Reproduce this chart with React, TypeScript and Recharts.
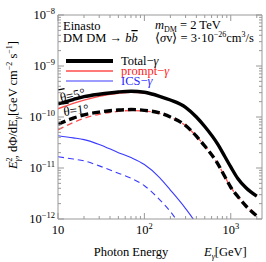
import React from "react";
import { LineChart, Line, XAxis, YAxis } from "recharts";

// photon energy grid [GeV]
const energy = [10, 15, 20, 30, 50, 70, 100, 150, 200, 300, 400, 500, 700, 850, 1000, 1200, 1500, 2000];

// E^2 dPhi/dE [GeV cm^-2 s^-1], theta = 5 deg (solid) and 1 deg (dashed)
const total5 = [1.8e-10, 2.2e-10, 2.5e-10, 2.8e-10, 3.1e-10, 3.2e-10, 3.05e-10, 2.55e-10, 2.15e-10, 1.55e-10, 1.0e-10, 6.5e-11, 3.0e-11, 1.7e-11, 1.05e-11, 6.3e-12, 4.1e-12, 2.8e-12];
const total1 = [7.2e-11, 9.5e-11, 1.1e-10, 1.25e-10, 1.37e-10, 1.4e-10, 1.35e-10, 1.2e-10, 1.0e-10, 6.8e-11, 4.2e-11, 2.7e-11, 1.25e-11, 6.9e-12, 4.2e-12, 2.8e-12, 1.8e-12, 1.15e-12];
const prompt5 = [1.45e-10, 1.85e-10, 2.15e-10, 2.55e-10, 2.92e-10, 3.05e-10, 2.93e-10, 2.48e-10, 2.11e-10, 1.53e-10, 9.9e-11, 6.5e-11, 3.0e-11, 1.7e-11, 1.05e-11, 6.3e-12, 4.1e-12, 2.8e-12];
const prompt1 = [5.6e-11, 7.8e-11, 9.4e-11, 1.13e-10, 1.29e-10, 1.34e-10, 1.31e-10, 1.18e-10, 9.9e-11, 6.75e-11, 4.2e-11, 2.7e-11, 1.25e-11, 6.9e-12, 4.2e-12, 2.8e-12, 1.8e-12, 1.15e-12];
const ics5 = [4.3e-11, 3.9e-11, 3.6e-11, 2.9e-11, 2.0e-11, 1.6e-11, 1.17e-11, 6.5e-12, 3.7e-12, 1.6e-12, 8e-13, 4e-13, null, null, null, null, null, null];
const ics1 = [1.66e-11, 1.5e-11, 1.38e-11, 1.1e-11, 7.9e-12, 6.3e-12, 4.5e-12, 2.4e-12, 1.4e-12, 5e-13, null, null, null, null, null, null, null, null];

const xTicks = [10, 20, 30, 40, 50, 60, 70, 80, 90, 100, 200, 300, 400, 500, 600, 700, 800, 900, 1000, 2000];
const yTicks = [-12, -11, -10, -9].flatMap((e) => [1, 2, 3, 4, 5, 6, 7, 8, 9].map((m) => m * Math.pow(10, e))).concat([1e-8]);

const legendItems = [
  { label: "Total", line: "#000", text: "#000", width: 3.8 },
  { label: "prompt", line: "#ff4d4d", text: "#ff1a1a", width: 1.3 },
  { label: "ICS", line: "#3a3aff", text: "#2a2aff", width: 1.1 },
];

const data = energy.map((e, i) => ({
  e,
  total5: total5[i],
  total1: total1[i],
  prompt5: prompt5[i],
  prompt1: prompt1[i],
  ics5: ics5[i],
  ics1: ics1[i],
}));

const FONT = "'Liberation Serif', 'Times New Roman', serif";
const GRID = "#999";

const isMajor = (v: number) => {
  const e = Math.round(Math.log10(v));
  return Math.abs(v - Math.pow(10, e)) / v < 1e-6;
};

const LeftTick = ({ x, y, payload }: any) => {
  const v = payload.value;
  const major = isMajor(v);
  const e = Math.round(Math.log10(v));
  return (
    <g>
      <line x1={x} x2={x + (major ? 6 : 3)} y1={y} y2={y} stroke={GRID} />
      {major && (
        <text x={x - 3} y={y + 4} textAnchor="end" style={{ fontFamily: FONT, fontSize: 12.5 }} fill="#000">
          <tspan>10</tspan>
          <tspan dy={-5} style={{ fontSize: 8.5 }}>{"\u2212" + Math.abs(e)}</tspan>
        </text>
      )}
    </g>
  );
};

const RightTick = ({ x, y, payload }: any) => {
  const major = isMajor(payload.value);
  return <line x1={x} x2={x - (major ? 6 : 3)} y1={y} y2={y} stroke={GRID} />;
};

const TopTick = ({ x, y, payload }: any) => {
  const major = isMajor(payload.value);
  return <line x1={x} x2={x} y1={y} y2={y + (major ? 6 : 3)} stroke={GRID} />;
};

const BottomTick = ({ x, y, payload }: any) => {
  const v = payload.value;
  const major = isMajor(v);
  const e = Math.round(Math.log10(v));
  return (
    <g>
      <line x1={x} x2={x} y1={y} y2={y - (major ? 6 : 3)} stroke={GRID} />
      {major && (
        <text x={x} y={y + 15} textAnchor="middle" style={{ fontFamily: FONT, fontSize: 12.5 }} fill="#000">
          <tspan>10</tspan>
          {e > 1 && <tspan dy={-5} style={{ fontSize: 8.5 }}>{e}</tspan>}
        </text>
      )}
    </g>
  );
};

export default function App() {
  return (
    <div style={{ position: "absolute", left: 0, top: 0, width: 266, height: 262, background: "#fff", fontFamily: FONT }}>
      <LineChart width={266} height={262} data={data} margin={{ top: 0, right: 0, bottom: 0, left: 0 }}>
        <XAxis
          dataKey="e"
          type="number"
          scale="log"
          domain={[10, 2300]}
          allowDataOverflow
          ticks={xTicks}
          interval={0}
          tickSize={0}
          tickMargin={0}
          height={43}
          axisLine={{ stroke: GRID }}
          tick={<BottomTick />}
        />
        <XAxis
          xAxisId="top"
          orientation="top"
          dataKey="e"
          type="number"
          scale="log"
          domain={[10, 2300]}
          allowDataOverflow
          ticks={xTicks}
          interval={0}
          tickSize={0}
          tickMargin={0}
          height={15}
          axisLine={{ stroke: GRID }}
          tick={<TopTick />}
        />
        <YAxis
          type="number"
          scale="log"
          domain={[1e-12, 1e-8]}
          allowDataOverflow
          ticks={yTicks}
          interval={0}
          tickSize={0}
          tickMargin={0}
          width={58}
          axisLine={{ stroke: GRID }}
          tick={<LeftTick />}
        />
        <YAxis
          yAxisId="right"
          orientation="right"
          type="number"
          scale="log"
          domain={[1e-12, 1e-8]}
          allowDataOverflow
          ticks={yTicks}
          interval={0}
          tickSize={0}
          tickMargin={0}
          width={4}
          axisLine={{ stroke: GRID }}
          tick={<RightTick />}
        />
        <Line type="monotone" dataKey="ics1" stroke="#3a3aff" strokeWidth={1.1} strokeDasharray="6 4" dot={false} isAnimationActive={false} />
        <Line type="monotone" dataKey="ics5" stroke="#3a3aff" strokeWidth={1.1} dot={false} isAnimationActive={false} />
        <Line type="monotone" dataKey="prompt1" stroke="#ff4d4d" strokeWidth={1.3} strokeDasharray="6 4" dot={false} isAnimationActive={false} />
        <Line type="monotone" dataKey="prompt5" stroke="#ff4d4d" strokeWidth={1.3} dot={false} isAnimationActive={false} />
        <Line type="monotone" dataKey="total1" stroke="#000" strokeWidth={3.4} strokeDasharray="8 4" dot={false} isAnimationActive={false} />
        <Line type="monotone" dataKey="total5" stroke="#000" strokeWidth={3.4} dot={false} isAnimationActive={false} />
      </LineChart>
      <svg
        width={266}
        height={262}
        style={{ position: "absolute", left: 0, top: 0, pointerEvents: "none", fontFamily: FONT, fontSize: 12.5 }}
      >
        <text x={63} y={30}>Einasto</text>
        <text x={63} y={42}>
          DM DM → <tspan fontStyle="italic">b</tspan>
          <tspan fontStyle="italic" textDecoration="overline">b</tspan>
        </text>
        <text x={155} y={29}>
          <tspan fontStyle="italic">m</tspan>
          <tspan dy={3} style={{ fontSize: 8 }}>DM</tspan>
          <tspan dy={-3}> = 2 TeV</tspan>
        </text>
        <text x={155} y={42}>
          ⟨<tspan fontStyle="italic">σ</tspan>v⟩ = 3·10
          <tspan dy={-5} style={{ fontSize: 8 }}>−26</tspan>
          <tspan dy={5}>cm</tspan>
          <tspan dy={-5} style={{ fontSize: 8 }}>3</tspan>
          <tspan dy={5}>/s</tspan>
        </text>
        {legendItems.map((it, i) => (
          <g key={it.label}>
            <line x1={66} x2={113} y1={61 + i * 10} y2={61 + i * 10} stroke={it.line} strokeWidth={it.width} />
            <text x={121} y={65 + i * 10} fill={it.text} style={{ fontSize: 12.5 }}>
              {it.label}−<tspan fontStyle="italic">γ</tspan>
            </text>
          </g>
        ))}
        <text x={61} y={102} transform="rotate(-12 61 102)" style={{ fontSize: 13 }}>
          <tspan textDecoration="overline">θ</tspan>=5°
        </text>
        <text x={64} y={116} transform="rotate(-7 64 116)" style={{ fontSize: 13 }}>
          <tspan textDecoration="overline">θ</tspan>=1°
        </text>
        <text x={131} y={256} textAnchor="middle">Photon Energy</text>
        <text x={204} y={256}>
          <tspan fontStyle="italic">E</tspan>
          <tspan dy={3} style={{ fontSize: 8 }} fontStyle="italic">γ</tspan>
          <tspan dy={-3}>[GeV]</tspan>
        </text>
        <text x={0} y={0} transform="translate(17 105) rotate(-90)" textAnchor="middle">
          <tspan fontStyle="italic">E</tspan>
          <tspan dy={-5} style={{ fontSize: 8 }}>2</tspan>
          <tspan dx={-4} dy={8} style={{ fontSize: 8 }} fontStyle="italic">γ</tspan>
          <tspan dy={-3}>, dΦ/dE</tspan>
          <tspan dy={3} style={{ fontSize: 8 }} fontStyle="italic">γ</tspan>
          <tspan dy={-3}>[GeV cm</tspan>
          <tspan dy={-5} style={{ fontSize: 8 }}>−2</tspan>
          <tspan dy={5}> s</tspan>
          <tspan dy={-5} style={{ fontSize: 8 }}>−1</tspan>
          <tspan dy={5}>]</tspan>
        </text>
      </svg>
    </div>
  );
}
